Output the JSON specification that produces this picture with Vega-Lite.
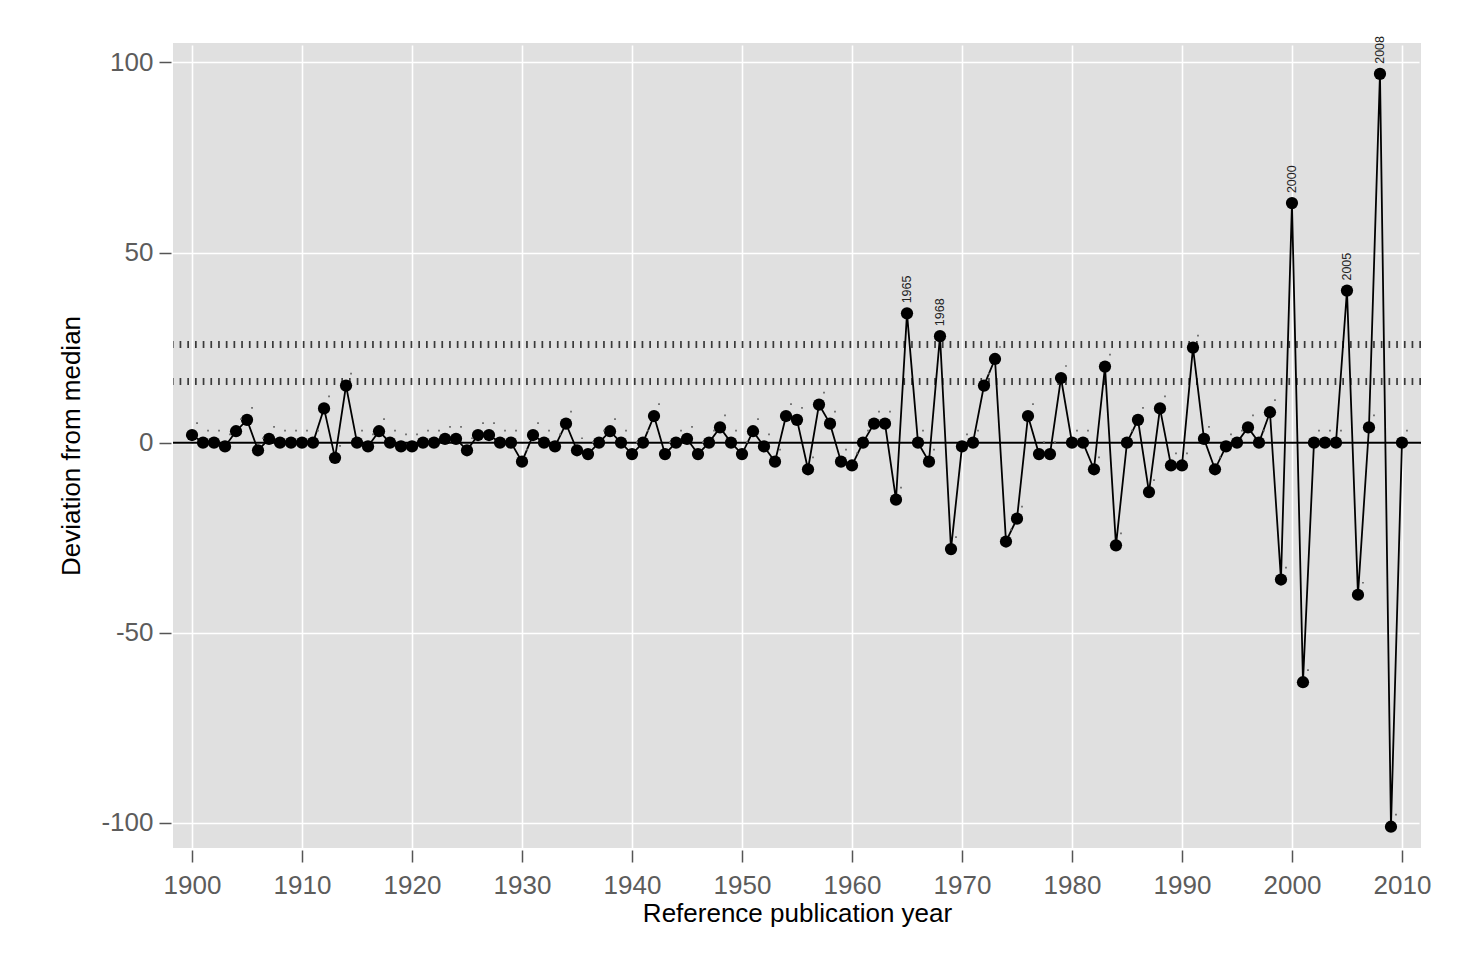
{
  "$schema": "https://vega.github.io/schema/vega-lite/v6.json",
  "autosize": {"type": "none"},
  "width": 1248,
  "height": 805,
  "padding": {"left": 173, "top": 43, "right": 39, "bottom": 112},
  "background": "white",
  "config": {
    "view": {"stroke": null, "fill": "#e0e0e0"},
    "font": "Liberation Sans",
    "locale": {"number": {"decimal": ".", "thousands": ",", "grouping": [3], "currency": ["$", ""], "minus": "-"}},
    "axis": {
      "domain": false,
      "grid": true,
      "gridColor": "white",
      "gridWidth": 1.6,
      "tickColor": "#555555",
      "tickWidth": 1.5,
      "tickSize": 12,
      "labelColor": "#5c5c5c",
      "labelFontSize": 26,
      "labelFont": "Liberation Sans",
      "titleFont": "Liberation Sans",
      "titleFontSize": 26,
      "titleFontWeight": "normal",
      "titleColor": "black",
      "offset": 2
    }
  },
  "datasets": {
    "series": [
      {"year": 1900, "dev": 2, "label": ""},
      {"year": 1901, "dev": 0, "label": ""},
      {"year": 1902, "dev": 0, "label": ""},
      {"year": 1903, "dev": -1, "label": ""},
      {"year": 1904, "dev": 3, "label": ""},
      {"year": 1905, "dev": 6, "label": ""},
      {"year": 1906, "dev": -2, "label": ""},
      {"year": 1907, "dev": 1, "label": ""},
      {"year": 1908, "dev": 0, "label": ""},
      {"year": 1909, "dev": 0, "label": ""},
      {"year": 1910, "dev": 0, "label": ""},
      {"year": 1911, "dev": 0, "label": ""},
      {"year": 1912, "dev": 9, "label": ""},
      {"year": 1913, "dev": -4, "label": ""},
      {"year": 1914, "dev": 15, "label": ""},
      {"year": 1915, "dev": 0, "label": ""},
      {"year": 1916, "dev": -1, "label": ""},
      {"year": 1917, "dev": 3, "label": ""},
      {"year": 1918, "dev": 0, "label": ""},
      {"year": 1919, "dev": -1, "label": ""},
      {"year": 1920, "dev": -1, "label": ""},
      {"year": 1921, "dev": 0, "label": ""},
      {"year": 1922, "dev": 0, "label": ""},
      {"year": 1923, "dev": 1, "label": ""},
      {"year": 1924, "dev": 1, "label": ""},
      {"year": 1925, "dev": -2, "label": ""},
      {"year": 1926, "dev": 2, "label": ""},
      {"year": 1927, "dev": 2, "label": ""},
      {"year": 1928, "dev": 0, "label": ""},
      {"year": 1929, "dev": 0, "label": ""},
      {"year": 1930, "dev": -5, "label": ""},
      {"year": 1931, "dev": 2, "label": ""},
      {"year": 1932, "dev": 0, "label": ""},
      {"year": 1933, "dev": -1, "label": ""},
      {"year": 1934, "dev": 5, "label": ""},
      {"year": 1935, "dev": -2, "label": ""},
      {"year": 1936, "dev": -3, "label": ""},
      {"year": 1937, "dev": 0, "label": ""},
      {"year": 1938, "dev": 3, "label": ""},
      {"year": 1939, "dev": 0, "label": ""},
      {"year": 1940, "dev": -3, "label": ""},
      {"year": 1941, "dev": 0, "label": ""},
      {"year": 1942, "dev": 7, "label": ""},
      {"year": 1943, "dev": -3, "label": ""},
      {"year": 1944, "dev": 0, "label": ""},
      {"year": 1945, "dev": 1, "label": ""},
      {"year": 1946, "dev": -3, "label": ""},
      {"year": 1947, "dev": 0, "label": ""},
      {"year": 1948, "dev": 4, "label": ""},
      {"year": 1949, "dev": 0, "label": ""},
      {"year": 1950, "dev": -3, "label": ""},
      {"year": 1951, "dev": 3, "label": ""},
      {"year": 1952, "dev": -1, "label": ""},
      {"year": 1953, "dev": -5, "label": ""},
      {"year": 1954, "dev": 7, "label": ""},
      {"year": 1955, "dev": 6, "label": ""},
      {"year": 1956, "dev": -7, "label": ""},
      {"year": 1957, "dev": 10, "label": ""},
      {"year": 1958, "dev": 5, "label": ""},
      {"year": 1959, "dev": -5, "label": ""},
      {"year": 1960, "dev": -6, "label": ""},
      {"year": 1961, "dev": 0, "label": ""},
      {"year": 1962, "dev": 5, "label": ""},
      {"year": 1963, "dev": 5, "label": ""},
      {"year": 1964, "dev": -15, "label": ""},
      {"year": 1965, "dev": 34, "label": "1965"},
      {"year": 1966, "dev": 0, "label": ""},
      {"year": 1967, "dev": -5, "label": ""},
      {"year": 1968, "dev": 28, "label": "1968"},
      {"year": 1969, "dev": -28, "label": ""},
      {"year": 1970, "dev": -1, "label": ""},
      {"year": 1971, "dev": 0, "label": ""},
      {"year": 1972, "dev": 15, "label": ""},
      {"year": 1973, "dev": 22, "label": ""},
      {"year": 1974, "dev": -26, "label": ""},
      {"year": 1975, "dev": -20, "label": ""},
      {"year": 1976, "dev": 7, "label": ""},
      {"year": 1977, "dev": -3, "label": ""},
      {"year": 1978, "dev": -3, "label": ""},
      {"year": 1979, "dev": 17, "label": ""},
      {"year": 1980, "dev": 0, "label": ""},
      {"year": 1981, "dev": 0, "label": ""},
      {"year": 1982, "dev": -7, "label": ""},
      {"year": 1983, "dev": 20, "label": ""},
      {"year": 1984, "dev": -27, "label": ""},
      {"year": 1985, "dev": 0, "label": ""},
      {"year": 1986, "dev": 6, "label": ""},
      {"year": 1987, "dev": -13, "label": ""},
      {"year": 1988, "dev": 9, "label": ""},
      {"year": 1989, "dev": -6, "label": ""},
      {"year": 1990, "dev": -6, "label": ""},
      {"year": 1991, "dev": 25, "label": ""},
      {"year": 1992, "dev": 1, "label": ""},
      {"year": 1993, "dev": -7, "label": ""},
      {"year": 1994, "dev": -1, "label": ""},
      {"year": 1995, "dev": 0, "label": ""},
      {"year": 1996, "dev": 4, "label": ""},
      {"year": 1997, "dev": 0, "label": ""},
      {"year": 1998, "dev": 8, "label": ""},
      {"year": 1999, "dev": -36, "label": ""},
      {"year": 2000, "dev": 63, "label": "2000"},
      {"year": 2001, "dev": -63, "label": ""},
      {"year": 2002, "dev": 0, "label": ""},
      {"year": 2003, "dev": 0, "label": ""},
      {"year": 2004, "dev": 0, "label": ""},
      {"year": 2005, "dev": 40, "label": "2005"},
      {"year": 2006, "dev": -40, "label": ""},
      {"year": 2007, "dev": 4, "label": ""},
      {"year": 2008, "dev": 97, "label": "2008"},
      {"year": 2009, "dev": -101, "label": ""},
      {"year": 2010, "dev": 0, "label": ""}
    ],
    "thresholds": [{"level": 16.1}, {"level": 25.8}],
    "zero": [{"level": 0}]
  },
  "encoding": {
    "x": {
      "field": "year",
      "type": "quantitative",
      "scale": {"domain": [1898.27, 2011.73], "nice": false, "zero": false},
      "axis": {
        "title": "Reference publication year",
        "values": [1900, 1910, 1920, 1930, 1940, 1950, 1960, 1970, 1980, 1990, 2000, 2010],
        "format": "d",
        "labelPadding": 10,
        "titlePadding": 2
      }
    },
    "y": {
      "field": "dev",
      "type": "quantitative",
      "scale": {"domain": [-106.6, 105.1], "nice": false, "zero": false},
      "axis": {
        "title": "Deviation from median",
        "values": [-100, -50, 0, 50, 100],
        "labelPadding": 6,
        "titlePadding": 16
      }
    }
  },
  "layer": [
    {
      "data": {"name": "zero"},
      "mark": {"type": "rule", "color": "black", "strokeWidth": 2},
      "encoding": {"y": {"field": "level", "type": "quantitative"}, "x": null}
    },
    {
      "data": {"name": "thresholds"},
      "mark": {"type": "rule", "color": "#3a3a3a", "strokeWidth": 7, "strokeDash": [1.7, 6]},
      "encoding": {"y": {"field": "level", "type": "quantitative"}, "x": null}
    },
    {
      "data": {"name": "series"},
      "mark": {"type": "line", "color": "black", "strokeWidth": 1.8}
    },
    {
      "data": {"name": "series"},
      "mark": {"type": "point", "filled": true, "color": "black", "opacity": 1, "size": 150}
    },
    {
      "data": {"name": "series"},
      "transform": [{"filter": "datum.label == ''"}],
      "mark": {"type": "square", "color": "#666666", "opacity": 1, "size": 3, "xOffset": 5, "yOffset": -12}
    },
    {
      "data": {"name": "series"},
      "transform": [{"filter": "datum.label != ''"}],
      "mark": {"type": "text", "angle": 270, "align": "left", "baseline": "middle", "dx": 10, "fontSize": 12.5, "color": "#222222", "font": "Liberation Sans"},
      "encoding": {"text": {"field": "label"}}
    }
  ]
}
